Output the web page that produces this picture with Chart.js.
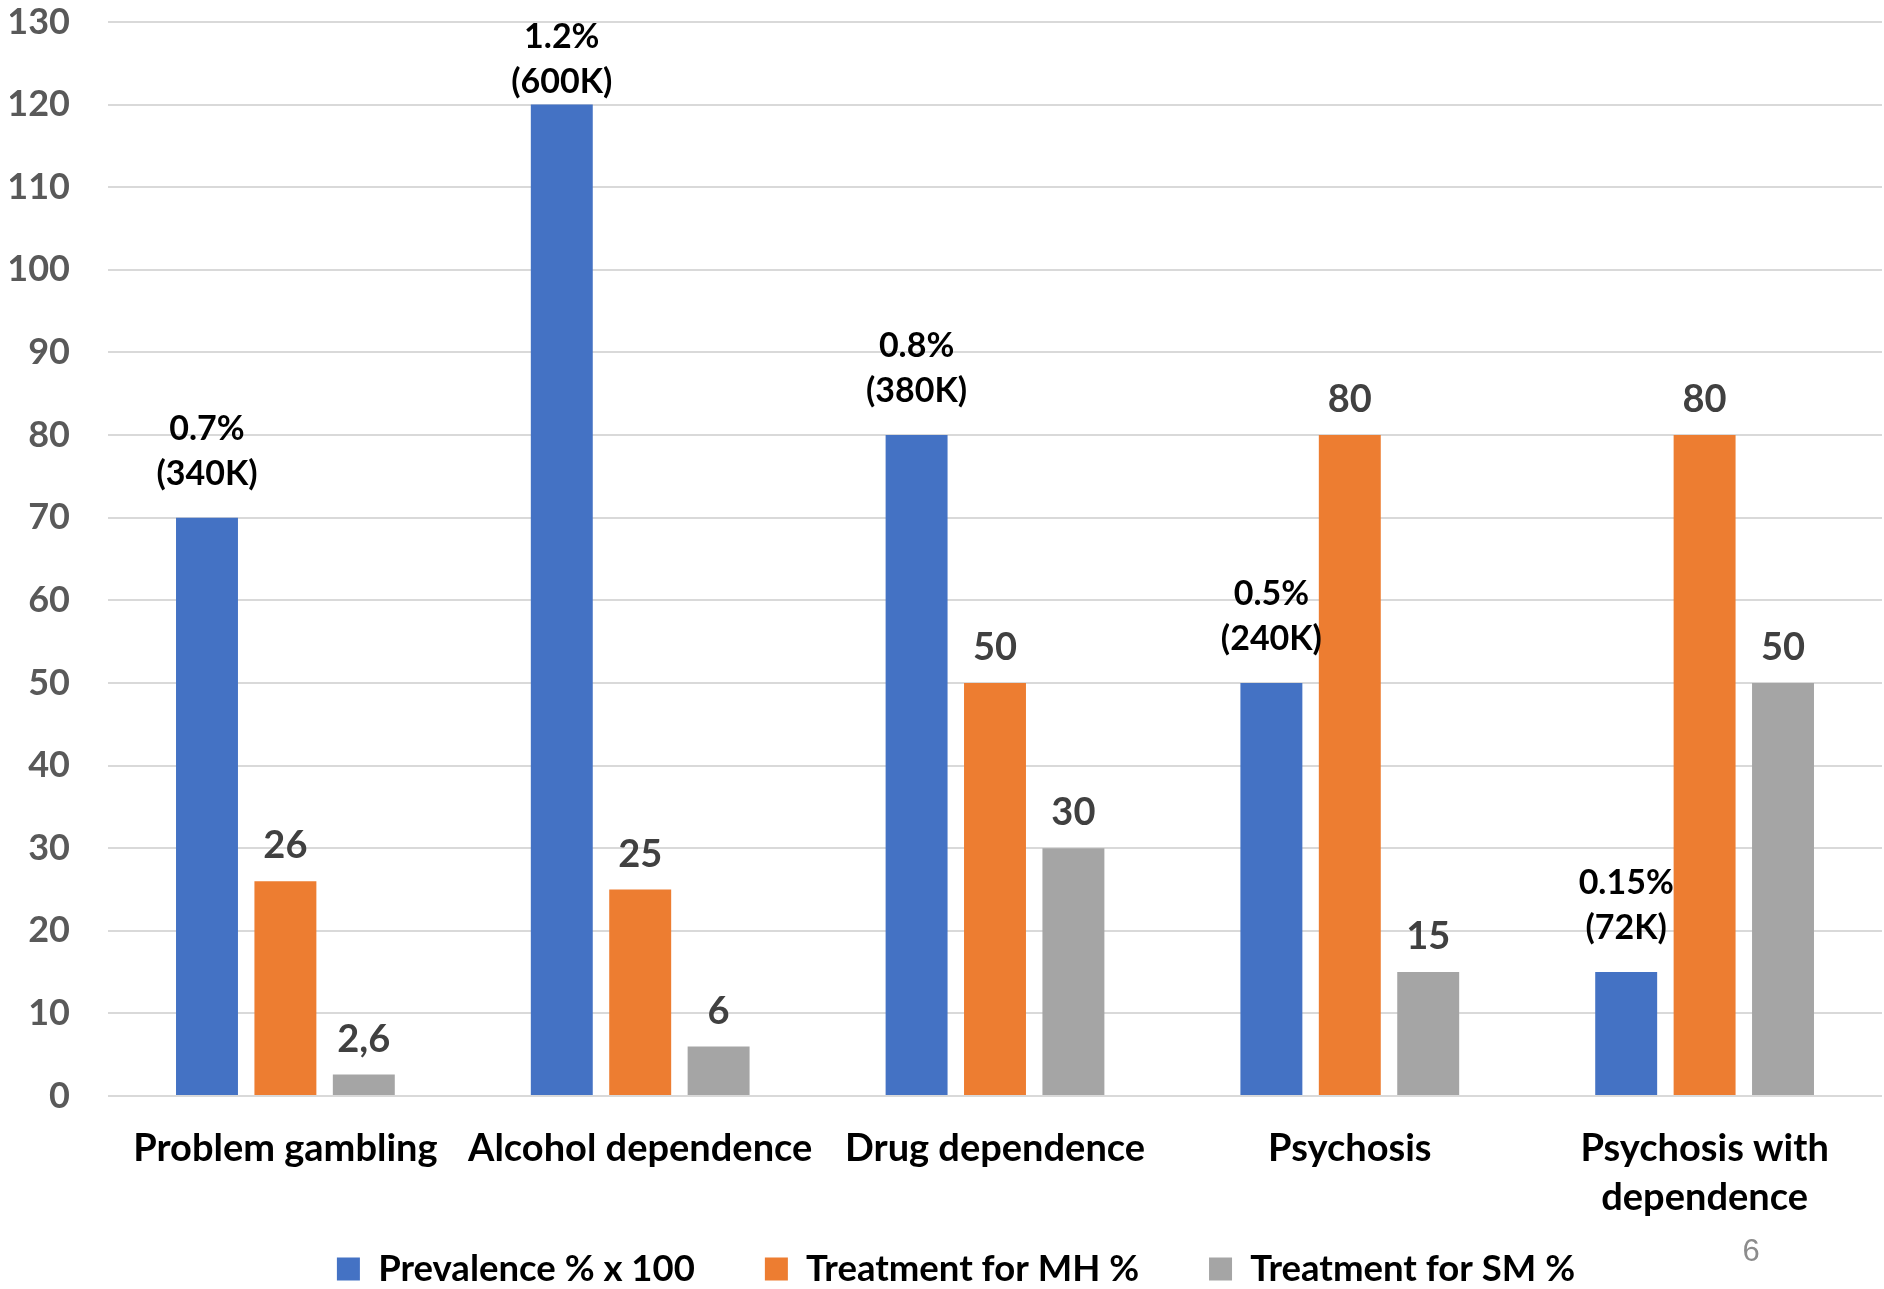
<!DOCTYPE html>
<html>
<head>
<meta charset="utf-8">
<title>Prevalence and treatment</title>
<script src="https://cdn.jsdelivr.net/npm/chart.js@4.4.1/dist/chart.umd.min.js"></script>
<style>
  html, body { margin: 0; padding: 0; background: #ffffff; }
  #wrap { width: 1884px; height: 1289px; }
</style>
</head>
<body>
<div id="wrap"><canvas id="chart" width="1884" height="1289"></canvas></div>
<script>
// Categories (multi-line labels as arrays)
const categories = [
  'Problem gambling',
  'Alcohol dependence',
  'Drug dependence',
  'Psychosis',
  ['Psychosis with', 'dependence']
];

// Series names
const seriesNames = ['Prevalence % x 100', 'Treatment for MH %', 'Treatment for SM %'];

// Series values
const prevalence = [70, 120, 80, 50, 15];       // prevalence in % multiplied by 100
const treatmentMH = [26, 25, 50, 80, 80];
const treatmentSM = [2.6, 6, 30, 15, 50];

// Estimated number of people behind each prevalence figure
const peopleCounts = ['340K', '600K', '380K', '240K', '72K'];

// Value axis
const yMin = 0;
const yMax = 130;
const yStep = 10;

// Slide number shown in the footer
const slideNumber = '6';

const FONT = 'Lato';
const BLUE = '#4472c4';
const ORANGE = '#ed7d31';
const GREY = '#a5a5a5';

const LEGEND_PAD = 70;      // gap between legend entries
const LEGEND_FONT = 36.5;
const LEGEND_BOX = 23;

// Draws value labels above each bar
const barLabels = {
  id: 'barLabels',
  afterDatasetsDraw(chart) {
    const ctx = chart.ctx;
    ctx.save();
    ctx.textAlign = 'center';
    ctx.textBaseline = 'middle';
    chart.data.datasets.forEach((ds, di) => {
      const meta = chart.getDatasetMeta(di);
      meta.data.forEach((bar, i) => {
        const v = ds.data[i];
        if (di === 0) {
          // prevalence: percentage and head count on two lines
          const pct = (v / 100) + '%';
          const cnt = '(' + peopleCounts[i] + ')';
          let second = bar.y - 44;
          let first = second - 45;
          const minFirst = chart.chartArea.top + 15;
          if (first < minFirst) {
            second += minFirst - first;
            first = minFirst;
          }
          ctx.font = 'bold 34px ' + FONT;
          ctx.fillStyle = '#000000';
          ctx.fillText(pct, bar.x, first);
          ctx.fillText(cnt, bar.x, second);
        } else {
          ctx.font = 'bold 38px ' + FONT;
          ctx.fillStyle = '#404040';
          ctx.fillText(String(v).replace('.', ','), bar.x, bar.y - 35);
        }
      });
    });
    ctx.restore();
  }
};

// Places the legend row in the footer band below the category labels
const legendBand = {
  id: 'legendBand',
  afterLayout(chart) {
    const lg = chart.legend;
    if (!lg) return;
    const itemHeight = Math.max(LEGEND_FONT, LEGEND_BOX);
    const top = chart.height - 20 - LEGEND_PAD - itemHeight / 2;
    lg.top = top;
    lg.bottom = chart.height;
    lg.height = lg.bottom - lg.top;
    lg.left += 10;
    lg.right += 10;
  }
};

// Footer slide number
const footer = {
  id: 'footer',
  afterDraw(chart) {
    const ctx = chart.ctx;
    ctx.save();
    ctx.font = '31px "Liberation Sans", Arial, sans-serif';
    ctx.fillStyle = '#8c8c8c';
    ctx.textAlign = 'center';
    ctx.textBaseline = 'middle';
    ctx.fillText(slideNumber, chart.width - 133, chart.height - 37);
    ctx.restore();
  }
};

const ctx = document.getElementById('chart').getContext('2d');
new Chart(ctx, {
  type: 'bar',
  data: {
    labels: categories,
    datasets: [
      { label: seriesNames[0], data: prevalence, backgroundColor: BLUE },
      { label: seriesNames[1], data: treatmentMH, backgroundColor: ORANGE },
      { label: seriesNames[2], data: treatmentSM, backgroundColor: GREY }
    ]
  },
  options: {
    responsive: false,
    animation: false,
    devicePixelRatio: 1,
    layout: { padding: { left: 10, right: 2, top: 22, bottom: 0 } },
    datasets: {
      bar: { categoryPercentage: 0.663, barPercentage: 0.79 }
    },
    scales: {
      x: {
        grid: { display: false, drawTicks: false },
        border: { display: false },
        ticks: {
          padding: 28,
          color: '#000000',
          font: { family: FONT, size: 38, weight: 'bold', lineHeight: 1.29 },
          maxRotation: 0,
          autoSkip: false
        },
        afterFit(scale) { scale.height = 140; }
      },
      y: {
        min: yMin,
        max: yMax,
        grid: { color: '#d9d9d9', lineWidth: 2, drawTicks: false },
        border: { display: false },
        ticks: {
          stepSize: yStep,
          padding: 38,
          color: '#595959',
          font: { family: FONT, size: 36, weight: 'bold' }
        },
        afterFit(scale) {
          scale.width = 98;
          scale.paddingTop = 0;
          scale.paddingBottom = 0;
        }
      }
    },
    plugins: {
      tooltip: { enabled: false },
      legend: {
        position: 'bottom',
        maxHeight: 53,
        labels: {
          boxWidth: LEGEND_BOX,
          boxHeight: LEGEND_BOX,
          padding: LEGEND_PAD,
          color: '#000000',
          font: { family: FONT, size: LEGEND_FONT, weight: 'bold' }
        }
      }
    }
  },
  plugins: [barLabels, legendBand, footer]
});
</script>
</body>
</html>
